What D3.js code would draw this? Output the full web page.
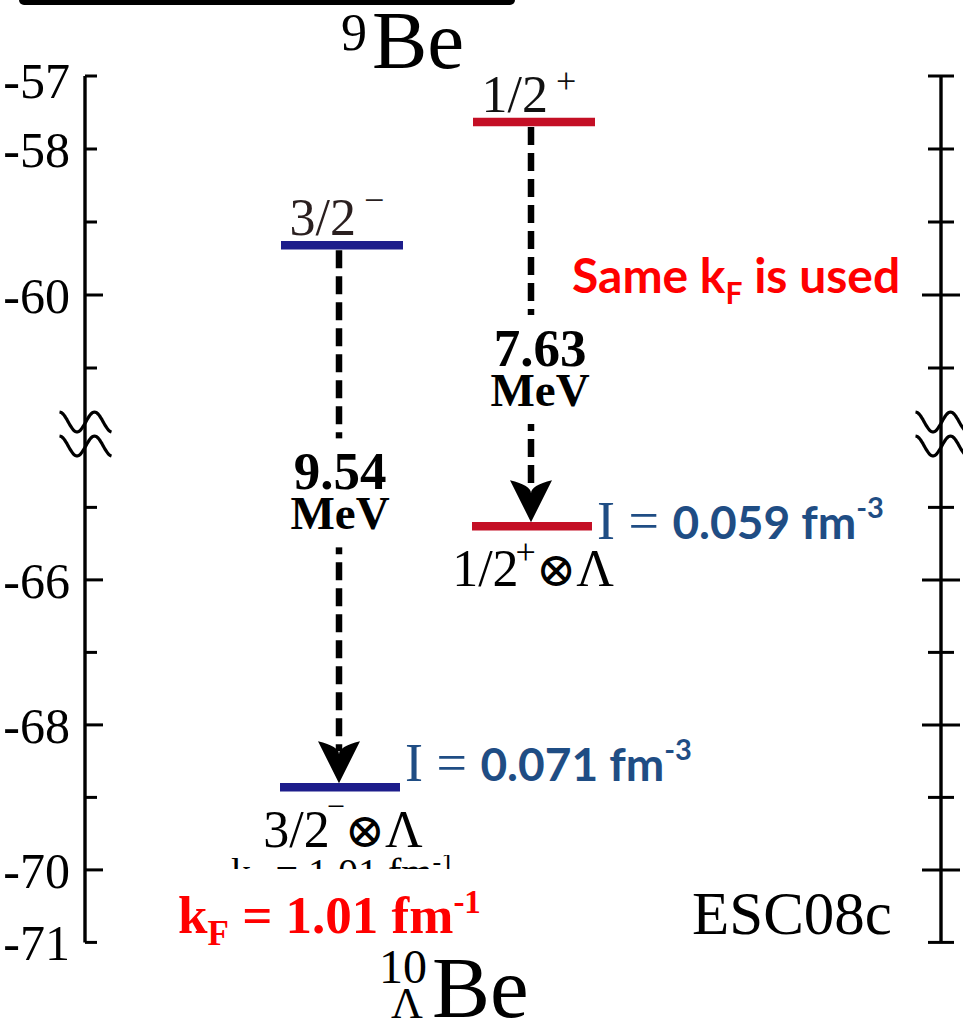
<!DOCTYPE html>
<html>
<head>
<meta charset="utf-8">
<script src="https://cdn.jsdelivr.net/npm/d3@7"></script>
<style>
  html, body { margin: 0; padding: 0; background: #fff; }
  svg { display: block; }
</style>
</head>
<body>
<svg id="chart" width="963" height="1022"></svg>
<script>
// Core states of 9Be and the Λ-coupled states of 10ΛBe (energies in MeV)
const coreSpin     = ["3/2", "1/2"];
const coreParity   = ["−", "+"];
const coreEnergy   = [-59.32, -57.63];
const energyDrop   = [9.54, 7.63];          // shift when the Λ is added
const densityI     = ["0.071", "0.059"];    // I in fm^-3
const levelColors  = ["#1d1d8b", "#c40f25"];

// Axis ticks on the two pieces of the broken energy axis
const upperTicks   = [-57, -58, -59, -60, -61];
const lowerTicks   = [-65, -66, -67, -68, -69, -70, -71];
const labeledTicks = [-57, -58, -60, -66, -68, -70, -71];
const majorTicks   = [-60, -66, -68, -70];

const hyperEnergy = coreEnergy.map((e, i) => +(e - energyDrop[i]).toFixed(2));

const serif = "'Liberation Serif', 'Times New Roman', serif";
const sans  = "Lato, 'Open Sans', sans-serif";

const svg = d3.select("#chart");

// Broken scale: upper piece and lower piece
const yUpper = d3.scaleLinear().domain([-57, -61.8]).range([76, 426.4]);
const yLower = d3.scaleLinear().domain([-64.25, -71]).range([453, 942.4]);
const y = v => (v >= -62.5 ? yUpper(v) : yLower(v));

const x = d3.scalePoint().domain([0, 1]).range([339, 531]);
const halfW = 61;
const axisL = 85, axisR = 941;

// Frame edge at the top
svg.append("rect").attr("x", 19).attr("y", -6).attr("width", 496).attr("height", 11)
  .attr("rx", 5).attr("fill", "#000");

// Axis lines
[axisL, axisR].forEach(ax => {
  svg.append("line").attr("x1", ax).attr("x2", ax)
    .attr("y1", y(-57)).attr("y2", y(-71))
    .attr("stroke", "#000").attr("stroke-width", 3.4);
});

const allTicks = upperTicks.concat(lowerTicks);
const tickLen = d => (majorTicks.includes(d) ? 18 : 12);

// Left axis ticks point inward
svg.append("g").selectAll("line").data(allTicks).join("line")
  .attr("x1", axisL).attr("x2", d => axisL + tickLen(d))
  .attr("y1", d => y(d)).attr("y2", d => y(d))
  .attr("stroke", "#000").attr("stroke-width", 3);

// Right axis ticks cross the line
svg.append("g").selectAll("line").data(allTicks).join("line")
  .attr("x1", d => axisR - tickLen(d) - 1).attr("x2", d => axisR + tickLen(d) + 1)
  .attr("y1", d => y(d)).attr("y2", d => y(d))
  .attr("stroke", "#000").attr("stroke-width", 3);

// Tick labels
svg.append("g").selectAll("text").data(labeledTicks).join("text")
  .attr("x", 70).attr("y", d => y(d) + (d === -57 ? 22 : 18))
  .attr("text-anchor", "end")
  .attr("font-family", serif).attr("font-size", 50)
  .text(d => String(d));

// Axis break marks
const wave = d3.line().curve(d3.curveBasis);
function breakMark(cx, cy) {
  const pts = d3.range(0, 53, 1).map(t => [cx - 25.5 + t, cy - 10 * Math.cos(2 * Math.PI * t / 35)]);
  svg.append("path").attr("d", wave(pts)).attr("fill", "none")
    .attr("stroke", "#000").attr("stroke-width", 3.2);
}
[axisL, axisR].forEach(ax => { breakMark(ax, 422); breakMark(ax, 446); });

// Energy levels
const lv = svg.append("g");
lv.selectAll("line.core").data(coreEnergy).join("line").attr("class", "core")
  .attr("x1", (d, i) => x(i) - halfW + 3).attr("x2", (d, i) => x(i) + halfW + 3)
  .attr("y1", d => y(d)).attr("y2", d => y(d))
  .attr("stroke", (d, i) => levelColors[i]).attr("stroke-width", 8.5);
lv.selectAll("line.hyper").data(hyperEnergy).join("line").attr("class", "hyper")
  .attr("x1", (d, i) => x(i) - halfW + 2).attr("x2", (d, i) => x(i) + halfW)
  .attr("y1", d => y(d)).attr("y2", d => y(d))
  .attr("stroke", (d, i) => levelColors[i]).attr("stroke-width", 8.5);

// Transition arrows (dashed shaft + barbed head)
const headH = 42, headW = 21, notch = 13;
coreEnergy.forEach((e, i) => {
  const xi = x(i);
  const y0 = y(e) + 5, tip = y(hyperEnergy[i]) - 4;
  svg.append("line").attr("x1", xi).attr("x2", xi)
    .attr("y1", y0).attr("y2", tip - headH + 10)
    .attr("stroke", "#000").attr("stroke-width", 6.5)
    .attr("stroke-dasharray", "18,8");
  // label block for the energy difference
  const g = svg.append("g");
  const t1 = g.append("text").attr("x", xi + (i ? 9 : 1)).attr("y", y(e) + 244)
    .attr("text-anchor", "middle").attr("font-family", serif)
    .attr("font-weight", "bold").attr("font-size", 53)
    .text(energyDrop[i].toFixed(2));
  const t2 = g.append("text").attr("x", xi + (i ? 9 : 1)).attr("y", y(e) + 284)
    .attr("text-anchor", "middle").attr("font-family", serif)
    .attr("font-weight", "bold").attr("font-size", 47)
    .text("MeV");
  const b1 = t1.node().getBBox(), b2 = t2.node().getBBox();
  const top = b1.y + 4, bot = b2.y + b2.height + 6;
  g.insert("rect", "text").attr("x", xi - 10).attr("y", top - 8)
    .attr("width", 20).attr("height", bot - top + 10).attr("fill", "#fff");
  svg.append("path")
    .attr("d", `M${xi},${tip} L${xi - headW},${tip - headH} Q${xi},${tip - headH + notch * 0.4} ${xi},${tip - headH + notch} Q${xi},${tip - headH + notch * 0.4} ${xi + headW},${tip - headH} Z`)
    .attr("fill", "#000");
});

// Level labels above the core states
coreSpin.forEach((s, i) => {
  const t = svg.append("text").attr("x", x(i) - 2).attr("y", y(coreEnergy[i]) - 10)
    .attr("text-anchor", "middle").attr("font-family", serif).attr("font-size", 52)
    .attr("fill", i ? "#111" : "#2a1f1f");
  t.append("tspan").text(s);
  t.append("tspan").attr("dx", 8).attr("dy", i ? -19 : -23).attr("font-size", 36).text(coreParity[i]);
});

// Labels below the hypernuclear states
coreSpin.forEach((s, i) => {
  const t = svg.append("text").attr("x", x(i) + (i ? 2 : 4)).attr("y", y(hyperEnergy[i]) + 60)
    .attr("text-anchor", "middle").attr("font-family", serif).attr("font-size", 52).attr("fill", "#000");
  t.append("tspan").text(s);
  t.append("tspan").attr("dx", -3).attr("dy", i ? -22 : -30).attr("font-size", i ? 36 : 32).text(coreParity[i]);
  t.append("tspan").attr("dy", i ? 22 : 30).attr("font-family", "'DejaVu Serif', serif").attr("font-size", 48).text("⊗");
  t.append("tspan").text("Λ");
});

// Density labels next to the hypernuclear levels
const iDy = [-6, 13];
densityI.forEach((v, i) => {
  const t = svg.append("text").attr("x", x(i) + halfW + 5).attr("y", y(hyperEnergy[i]) + iDy[i])
    .attr("fill", "#1f4d84").attr("font-size", 48);
  t.append("tspan").attr("font-family", serif).attr("font-size", 54).text("I = ");
  t.append("tspan").attr("font-family", sans).attr("font-weight", "bold").attr("font-size", 46).text(v + " fm");
  t.append("tspan").attr("font-family", sans).attr("font-weight", "bold").attr("font-size", 29).attr("dy", -21).text("-3");
});

// Nuclide names
const top9 = svg.append("text").attr("font-family", serif).attr("fill", "#000");
top9.append("tspan").attr("x", 341).attr("y", 50).attr("font-size", 52).text("9");
top9.append("tspan").attr("x", 372).attr("y", 68).attr("font-size", 83).text("Be");

svg.append("text").attr("x", 379).attr("y", 983).attr("font-family", serif).attr("font-size", 48).text("10");
svg.append("text").attr("x", 391).attr("y", 1018).attr("font-family", serif).attr("font-size", 44).text("Λ");
svg.append("text").attr("x", 432).attr("y", 1017).attr("font-family", serif).attr("font-size", 87).text("Be");

// Interaction name
svg.append("text").attr("x", 692).attr("y", 934).attr("font-family", serif).attr("font-size", 61).text("ESC08c");

// Fermi momentum notes
const same = svg.append("text").attr("x", 572).attr("y", 293).attr("fill", "#ff0000")
  .attr("font-family", sans).attr("font-weight", "bold").attr("font-size", 48);
same.append("tspan").text("Same k");
same.append("tspan").attr("dy", 11).attr("font-size", 30).text("F");
same.append("tspan").attr("dy", -11).text(" is used");

const kf = svg.append("text").attr("x", 178).attr("y", 933).attr("fill", "#ff0000")
  .attr("font-family", serif).attr("font-weight", "bold").attr("font-size", 53);
kf.append("tspan").text("k");
kf.append("tspan").attr("dy", 12).attr("font-size", 35).text("F");
kf.append("tspan").attr("dy", -12).text(" = 1.01 fm");
kf.append("tspan").attr("dy", -20).attr("font-size", 33).text("-1");

// Partly covered line of the same value in plain type
svg.append("clipPath").attr("id", "cut").append("rect")
  .attr("x", 150).attr("y", 855).attr("width", 340).attr("height", 14);
const kf2 = svg.append("text").attr("clip-path", "url(#cut)").attr("x", 231).attr("y", 886)
  .attr("font-family", serif).attr("font-size", 40).attr("fill", "#000");
kf2.append("tspan").text("k");
kf2.append("tspan").attr("dy", 8).attr("font-size", 26).text("F");
kf2.append("tspan").attr("dy", -8).text(" = 1.01 fm");
kf2.append("tspan").attr("dy", -16).attr("font-size", 26).text("-1");
</script>
</body>
</html>
